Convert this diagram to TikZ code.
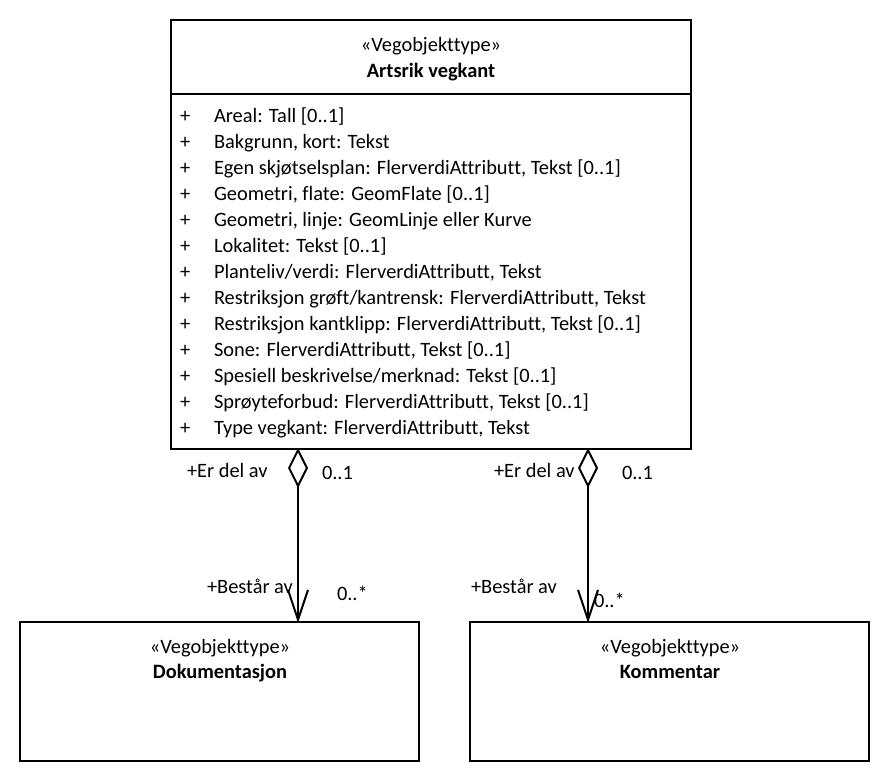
\documentclass[tikz,border=0pt]{standalone}
\usepackage{fontspec}
\setmainfont[Ligatures={NoCommon}]{Carlito}
\usetikzlibrary{arrows.meta}
\begin{document}
\begin{tikzpicture}[x=1pt,y=-1pt,
  every node/.style={inner sep=0pt, outer sep=0pt, font=\fontsize{20.4}{24}\selectfont},
  cls/.style={draw, line width=2pt, minimum width=#1, anchor=north west},
  txt/.style={anchor=base west},
  ctxt/.style={anchor=base},
  agg/.style={line width=2pt, {Diamond[open, length=40pt, width=20pt, line width=2pt]}-{Straight Barb[length=30pt, width=20pt, line width=2pt]}, shorten >=-1pt, shorten <=-1pt}
]
\useasboundingbox (0,0) rectangle (890,782);
% main class
\node[cls=520pt, minimum height=429pt] (main) at (171,20) {};
\draw[line width=2pt] (main.west |- 0,94) -- (main.east |- 0,94);
\node[ctxt] (st0) at (431,51) {«Vegobjekttype»};
\node[ctxt, font=\fontsize{20.4}{24}\selectfont\bfseries] (nm0) at (431,77) {Artsrik vegkant};
\foreach \t [count=\i from 0] in {
  {Areal: Tall [0..1]},
  {Bakgrunn, kort: Tekst},
  {Egen skjøtselsplan: FlerverdiAttributt, Tekst [0..1]},
  {Geometri, flate: GeomFlate [0..1]},
  {Geometri, linje: GeomLinje eller Kurve},
  {Lokalitet: Tekst [0..1]},
  {Planteliv/verdi: FlerverdiAttributt, Tekst},
  {Restriksjon grøft/kantrensk: FlerverdiAttributt, Tekst},
  {Restriksjon kantklipp: FlerverdiAttributt, Tekst [0..1]},
  {Sone: FlerverdiAttributt, Tekst [0..1]},
  {Spesiell beskrivelse/merknad: Tekst [0..1]},
  {Sprøyteforbud: FlerverdiAttributt, Tekst [0..1]},
  {Type vegkant: FlerverdiAttributt, Tekst}}{
  \node[txt] (p\i) at (180,122+26*\i) {+};
  \node[txt] (a\i) at (214,122+26*\i) {\t};
}
% lower classes
\node[cls=399pt, minimum height=139pt] (doc) at (20,622) {};
\node[ctxt] (st1) at (220,653) {«Vegobjekttype»};
\node[ctxt, font=\fontsize{20.4}{24}\selectfont\bfseries] (nm1) at (220,678) {Dokumentasjon};
\node[cls=399pt, minimum height=139pt] (kom) at (470,622) {};
\node[ctxt] (st2) at (670,653) {«Vegobjekttype»};
\node[ctxt, font=\fontsize{20.4}{24}\selectfont\bfseries] (nm2) at (670,678) {Kommentar};
% connectors
\coordinate (c1) at (298,0);
\coordinate (c2) at (588,0);
\draw[agg] (main.south -| c1) -- (doc.north -| c1);
\draw[agg] (main.south -| c2) -- (kom.north -| c2);
% labels
\node[txt] (l1) at (187,477) {+Er del av};
\node[txt] (m1) at (322,479) {0..1};
\node[txt] (l2) at (207,593) {+Består av};
\node[txt] (m2) at (337,600) {0..*};
\node[txt] (l3) at (494,477) {+Er del av};
\node[txt] (m3) at (622,479) {0..1};
\node[txt] (l4) at (471,593) {+Består av};
\node[txt] (m4) at (594,607) {0..*};
\end{tikzpicture}
\end{document}
